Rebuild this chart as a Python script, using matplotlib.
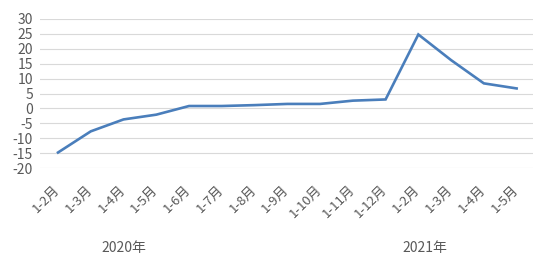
import matplotlib
matplotlib.use("Agg")
import matplotlib.pyplot as plt
import matplotlib.transforms as mtransforms

plt.rcParams['font.family'] = ['Noto Sans CJK SC', 'DejaVu Sans']
plt.rcParams['axes.unicode_minus'] = False

categories = ["1-2月", "1-3月", "1-4月", "1-5月", "1-6月", "1-7月", "1-8月", "1-9月",
              "1-10月", "1-11月", "1-12月", "1-2月", "1-3月", "1-4月", "1-5月"]
values = [-14.8, -7.7, -3.7, -2.1, 0.8, 0.8, 1.1, 1.5, 1.5, 2.6, 3.0, 24.8, 16.2, 8.4, 6.7]
yticks = [-20, -15, -10, -5, 0, 5, 10, 15, 20, 25, 30]
groups = ["2020年", "2021年"]
group_centers = [2, 11.2]

fig = plt.figure(figsize=(5.49, 2.60), dpi=100)
ax = fig.add_axes([40/549, 1-168/260, (533-40)/549, (168-19)/260])

x = list(range(len(categories)))
ax.plot(x, values, color='#4A7EBB', lw=1.9, solid_joinstyle='miter')

ax.set_ylim(-20, 30)
ax.set_xlim(-0.55, len(categories) - 0.5)
ax.set_yticks(yticks)
ax.set_yticklabels([str(v) for v in yticks])
ax.grid(axis='y', color='#D9D9D9', lw=0.8)
ax.set_axisbelow(True)
for s in ax.spines.values():
    s.set_visible(False)
ax.tick_params(axis='both', length=0, colors='#595959', labelsize=10)
ax.tick_params(axis='y', pad=5)
ax.set_xticks(x)
ax.set_xticklabels(categories, rotation=45, ha='right', va='top',
                   rotation_mode='anchor', fontsize=9.5)
ax.tick_params(axis='x', pad=11)
offset = mtransforms.ScaledTranslation(-5/100, 0, fig.dpi_scale_trans)
for lbl in ax.get_xticklabels():
    lbl.set_transform(lbl.get_transform() + offset)

trans = mtransforms.blended_transform_factory(ax.transData, fig.transFigure)
for g, c in zip(groups, group_centers):
    ax.text(c, 1 - 248/260, g, transform=trans, ha='center', va='center',
            fontsize=10, color='#595959')

fig.savefig("out.png", dpi=100)
